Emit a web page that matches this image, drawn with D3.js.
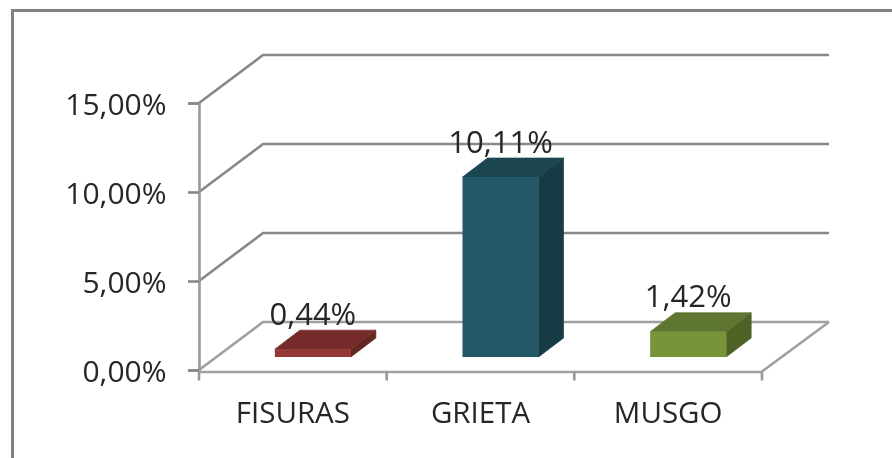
<!DOCTYPE html>
<html>
<head>
<meta charset="utf-8">
<script src="https://cdn.jsdelivr.net/npm/d3@7"></script>
<style>
  html, body { margin: 0; padding: 0; background: #fff; }
  svg { display: block; }
  text { font-family: "Open Sans", sans-serif; fill: #262626; }
</style>
</head>
<body>
<svg id="chart" width="892" height="458"></svg>
<script>
var categories = ["FISURAS", "GRIETA", "MUSGO"];
var values = [0.44, 10.11, 1.42];
var yTicks = [0, 5, 10, 15];
var frontColors = ["#953735", "#215968", "#779438"];
var topColors = ["#772c2a", "#1a4751", "#5f7530"];
var sideColors = ["#632523", "#153a45", "#4f6228"];

var svg = d3.select("#chart");
var wall = { dx: 64, dy: -48 };
var depth = { dx: 25, dy: -19 };
var barWidth = 76;
var barLift = 13;
var barShift = 20;

var comma = d3.formatLocale({ decimal: ",", thousands: ".", grouping: [3], currency: ["", ""] });
var fmt = comma.format(".2f");

var x = d3.scaleBand().domain(categories).range([199, 762]);
var y = d3.scaleLinear().domain([0, 15]).range([370, 103]);

var defs = svg.append("defs");
defs.append("filter").attr("id", "soft")
  .append("feGaussianBlur").attr("stdDeviation", 0.55);

var root = svg.append("g").attr("filter", "url(#soft)");

// outer frame, cut by the picture edge on the right and bottom
root.append("path")
  .attr("d", "M12.5,458V10.5H892")
  .attr("fill", "none")
  .attr("stroke", "#808080")
  .attr("stroke-width", 3);

// back wall gridlines with their floor/side diagonals
var grid = root.append("g");
grid.selectAll("path").data(yTicks).enter().append("path")
  .attr("d", function (d) {
    return "M199," + y(d) + "L" + (199 + wall.dx) + "," + (y(d) + wall.dy) + "H829";
  })
  .attr("fill", "none")
  .attr("stroke", function (d) { return d === 0 ? "#a0a0a0" : "#888888"; })
  .attr("stroke-width", 2.6);

// floor front-right edge
root.append("path")
  .attr("d", "M762," + (y(0) + 1.5) + "L829," + (y(0) + wall.dy))
  .attr("fill", "none")
  .attr("stroke", "#a0a0a0")
  .attr("stroke-width", 2.6);

// y axis
var yAxis = root.append("g")
  .attr("transform", "translate(199,0)")
  .call(d3.axisLeft(y).tickValues(yTicks).tickSize(11).tickPadding(21.5)
    .tickFormat(function (d) { return fmt(d) + "%"; }));
yAxis.select(".domain").attr("stroke", "#999999").attr("stroke-width", 2.6);
yAxis.selectAll("line").attr("stroke", "#888888").attr("stroke-width", 2.6);
yAxis.selectAll("text").attr("font-size", 30).style("fill", "#262626").attr("dy", "0.37em");

// x axis
var xAxis = root.append("g")
  .attr("transform", "translate(0," + (y(0) + 1.5) + ")")
  .call(d3.axisBottom(x).tickSize(0).tickPadding(30.5));
xAxis.select(".domain").attr("stroke", "#a0a0a0").attr("stroke-width", 2.6);
xAxis.selectAll("text").attr("font-size", 29.5).style("fill", "#262626");
xAxis.selectAll("line.edge")
  .data(x.domain().map(function (d) { return x(d); }).concat([x.range()[1]]))
  .enter().append("line")
  .attr("class", "edge")
  .attr("x1", function (d) { return d; })
  .attr("x2", function (d) { return d; })
  .attr("y1", 0).attr("y2", 9)
  .attr("stroke", "#999999").attr("stroke-width", 2.6);

// bars: front, top and side face
var bars = root.selectAll("g.bar").data(categories).enter().append("g").attr("class", "bar");

function barLeft(i) { return x(categories[i]) + x.bandwidth() / 2 + barShift - barWidth / 2; }
function barBase() { return y(0) - barLift; }
function barTop(i) { return y(values[i]) - barLift; }

bars.append("path")
  .attr("fill", function (d, i) { return sideColors[i]; })
  .attr("stroke", function (d, i) { return sideColors[i]; })
  .attr("stroke-width", 0.7)
  .attr("d", function (d, i) {
    var r = barLeft(i) + barWidth;
    return "M" + r + "," + barTop(i) + "l" + depth.dx + "," + depth.dy +
      "V" + (barBase() + depth.dy) + "l" + (-depth.dx) + "," + (-depth.dy) + "Z";
  });
bars.append("path")
  .attr("fill", function (d, i) { return topColors[i]; })
  .attr("stroke", function (d, i) { return topColors[i]; })
  .attr("stroke-width", 0.7)
  .attr("d", function (d, i) {
    return "M" + barLeft(i) + "," + barTop(i) + "l" + depth.dx + "," + depth.dy +
      "h" + barWidth + "l" + (-depth.dx) + "," + (-depth.dy) + "Z";
  });
bars.append("rect").attr("fill", function (d, i) { return frontColors[i]; })
  .attr("x", function (d, i) { return barLeft(i); })
  .attr("y", function (d, i) { return barTop(i); })
  .attr("width", barWidth)
  .attr("height", function (d, i) { return barBase() - barTop(i); });

// value labels
bars.append("text")
  .attr("x", function (d, i) { return barLeft(i) + barWidth / 2; })
  .attr("y", function (d, i) { return barTop(i) + depth.dy - 5.5; })
  .attr("text-anchor", "middle")
  .attr("font-size", 31)
  .text(function (d, i) { return fmt(values[i]) + "%"; });
</script>
</body>
</html>
